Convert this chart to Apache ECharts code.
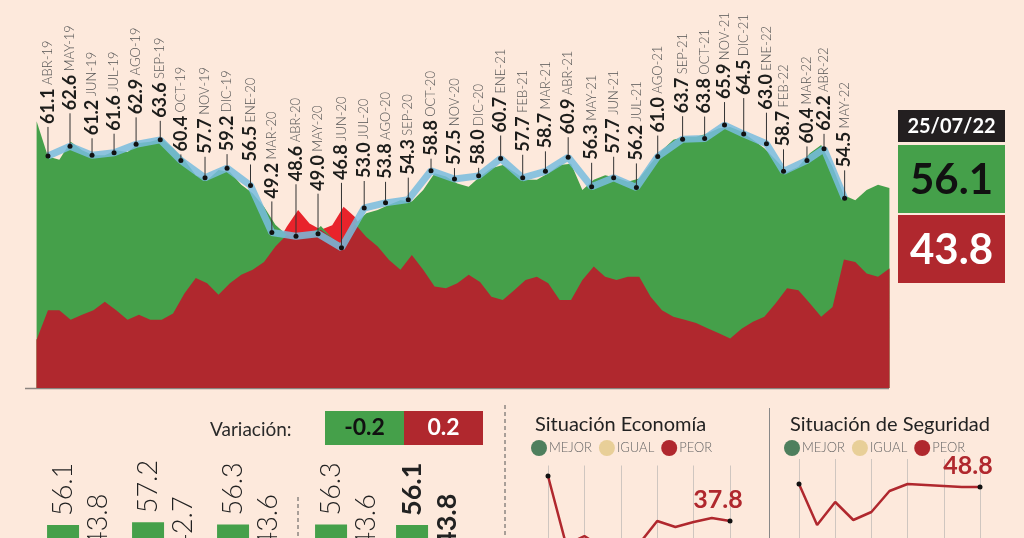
<!DOCTYPE html>
<html><head><meta charset="utf-8">
<script src="https://cdn.jsdelivr.net/npm/echarts@6/dist/echarts.min.js"></script>
<style>html,body{margin:0;padding:0;background:#fde9dc;}#c{width:1024px;height:538px;}</style>
</head><body><div id="c"></div>
<script>
// ---------- DATA ----------
// daily tracking, one sample every 16 days starting at day 0
const areaStepDays = 16;
const approval = [66.5,61.0,60.5,63.3,62.0,61.2,61.2,62.0,61.7,63.1,
  63.3,63.8,62.3,60.5,58.1,57.3,58.9,58.6,56.6,55.3,
  53.2,50.4,48.8,48.3,48.6,50.2,48.3,47.2,50.5,52.2,
  52.7,53.5,54.2,54.0,55.8,58.4,57.9,56.8,56.3,57.9,
  59.2,59.7,58.6,57.4,57.4,58.4,59.7,59.9,55.8,57.4,
  58.1,57.7,57.1,57.6,59.9,62.0,63.6,64.1,64.1,64.6,
  65.4,65.6,64.9,63.6,62.3,60.5,58.6,59.4,61.5,62.8,
  59.4,55.0,54.2,55.8,56.6,56.1];
const disapproval = [32.5,37.1,37.1,35.6,36.4,37.1,38.4,37.1,35.6,36.4,
  35.6,35.6,36.6,39.7,42.1,41.3,39.5,41.3,42.6,43.4,
  44.6,47.0,50.1,52.7,50.6,49.6,50.3,53.2,51.6,48.5,
  47.0,44.9,43.4,45.7,43.4,40.8,40.5,41.3,42.6,41.5,
  39.2,38.7,40.2,41.8,42.3,41.3,38.7,38.7,41.8,43.9,
  42.3,41.8,42.3,42.3,39.2,37.1,36.1,35.6,35.1,34.3,
  33.5,32.7,34.2,35.3,36.1,38.2,40.5,40.2,38.2,36.1,
  37.6,45.0,44.6,42.8,42.3,43.6];
// monthly averages (day = day of the tracking at which each average is plotted)
const monthLabels = ['ABR-19','MAY-19','JUN-19','JUL-19','AGO-19','SEP-19','OCT-19','NOV-19','DIC-19','ENE-20',
  'MAR-20','ABR-20','MAY-20','JUN-20','JUL-20','AGO-20','SEP-20','OCT-20','NOV-20','DIC-20',
  'ENE-21','FEB-21','MAR-21','ABR-21','MAY-21','JUN-21','JUL-21','AGO-21','SEP-21','OCT-21',
  'NOV-21','DIC-21','ENE-22','FEB-22','MAR-22','ABR-22','MAY-22'];
const monthValues = [61.1,62.6,61.2,61.6,62.9,63.6,60.4,57.7,59.2,56.5,
  49.2,48.6,49.0,46.8,53.0,53.8,54.3,58.8,57.5,58.0,
  60.7,57.7,58.7,60.9,56.3,57.7,56.2,61.0,63.7,63.8,
  65.9,64.5,63.0,58.7,60.4,62.2,54.5];
const monthDay = [16,47,78,109,140,174,203,237,268,301,
  331,365,396,429,461,491,523,555,588,622,
  653,684,716,748,781,812,844,874,909,940,
  968,995,1027,1051,1084,1108,1137];
const latestDate = '25/07/22';
const latestApproval = 56.1, latestDisapproval = 43.8;
// bottom-left comparison bars
const barApproveA = [56.1, 57.2, 56.3], barDisapproveA = [43.8, 42.7, 43.6];
const barApproveB = [56.3, 56.1], barDisapproveB = [43.6, 43.8];
// small panels (PEOR)
const econPeor = [55.8, 28.2, 31.8, 27.0, 26.0, 28.6, 37.8, 35.4, 37.4, 39.0, 37.8];
const segPeor  = [50.0, 33.6, 42.8, 35.6, 38.8, 47.2, 50.0, 49.6, 49.2, 48.8, 48.8];

// ---------- LAYOUT ----------
const labelGap = [32,36,20,22,30,22,9,24,17,24, 34,55,43,68,30,24,25,15,14,11,
  26,26,23,23,27,24,27,24,26,25, 26,39,34,25,17,18,31];
const GREEN = '#45a04a', DRED = '#b0282e', BRED = '#e8232b';
const MEJ = '#4e7f5d', IGU = '#e8cf98';

const days = approval.map((_, i) => i * areaStepDays);
const apData = approval.map((v, i) => [days[i], v]);
const disData = disapproval.map((v, i) => [days[i], v]);
const minData = approval.map((v, i) => [days[i], Math.min(v, disapproval[i])]);
const monthData = monthValues.map((v, i) => [monthDay[i], v]);

const chart = echarts.init(document.getElementById('c'));
const econCats = econPeor.map((_, i) => String(i + 1));
const segCats = segPeor.map((_, i) => String(i + 1));
const lastLabel = (arr) => arr.map((v, i) => i === arr.length - 1 ? {
  value: v, label: {show: true, position: 'top', offset: [-12, -1], formatter: v.toFixed(1),
    fontFamily: 'Lato', fontWeight: 'bold', fontSize: 25, color: DRED}} : v);
const dotSize = (arr) => (val, p) => (p.dataIndex === 0 || p.dataIndex === arr.length - 1) ? 5 : 0;
const barLabel = (bold) => ({show: true, position: 'top', rotate: 90, align: 'left', verticalAlign: 'middle',
  distance: 9, fontFamily: 'Lato', fontSize: 27, fontWeight: bold ? 'bold' : 300, color: '#222',
  formatter: (p) => p.value.toFixed(1)});
const barData = (arr, boldLast) => arr.map((v, i) => boldLast && i === arr.length - 1 ? {value: v, label: barLabel(true)} : v);

const variation = (barApproveB[1] - barApproveB[0]).toFixed(1);
const variationD = (barDisapproveB[1] - barDisapproveB[0]).toFixed(1);
const legendData = [{name: 'MEJOR', itemStyle: {color: MEJ}}, {name: 'IGUAL', itemStyle: {color: IGU}}, {name: 'PEOR', itemStyle: {color: DRED}}];
const legendText = {fontFamily: 'Lato', fontWeight: 300, fontSize: 13, color: '#666', padding: [0, 0, 0, -3]};
const G = (o) => Object.assign({outerBoundsMode: 'none', containLabel: false}, o);

const option = {
  backgroundColor: '#fde9dc',
  animation: false,
  title: [
    {text: 'Situación Economía', left: 530, top: 410, textStyle: {fontFamily: 'Lato', fontWeight: 'normal', fontSize: 20, color: '#222'}},
    {text: 'Situación de Seguridad', left: 785, top: 410, textStyle: {fontFamily: 'Lato', fontWeight: 'normal', fontSize: 20, color: '#222'}}
  ],
  legend: [
    {left: 531, top: 440, icon: 'circle', itemWidth: 16, itemHeight: 16, itemGap: 7, padding: 0, data: legendData, textStyle: legendText},
    {left: 784, top: 440, icon: 'circle', itemWidth: 16, itemHeight: 16, itemGap: 7, padding: 0, data: legendData, textStyle: legendText}
  ],
  grid: [
    G({left: 36.6, top: 118, width: 852.8, height: 270}),
    G({left: 38, top: 515.2, width: 255, height: 151}),
    G({left: 308, top: 515.2, width: 162, height: 151}),
    G({left: 548, top: 465.5, width: 182, height: 150}),
    G({left: 799, top: 459, width: 181, height: 150})
  ],
  xAxis: [
    {gridIndex: 0, type: 'value', min: 0, max: (approval.length - 1) * areaStepDays, show: false},
    {gridIndex: 1, type: 'category', data: ['a1', 'a2', 'a3'], show: false},
    {gridIndex: 2, type: 'category', data: ['b1', 'b2'], show: false},
    {gridIndex: 3, type: 'category', data: econCats, boundaryGap: false, axisLine: {show: false}, axisTick: {show: false}, axisLabel: {show: false},
      splitLine: {show: true, interval: (i) => i % 2 === 0, lineStyle: {color: '#cfc6c0', width: 1}}},
    {gridIndex: 4, type: 'category', data: segCats, boundaryGap: false, axisLine: {show: false}, axisTick: {show: false}, axisLabel: {show: false},
      splitLine: {show: true, interval: (i) => i % 2 === 0, lineStyle: {color: '#cfc6c0', width: 1}}}
  ],
  yAxis: [
    {gridIndex: 0, type: 'value', min: 25, max: 67, show: false},
    {gridIndex: 1, type: 'value', min: 0, max: 60, show: false},
    {gridIndex: 2, type: 'value', min: 0, max: 60, show: false},
    {gridIndex: 3, type: 'value', min: 0, max: 60, show: false},
    {gridIndex: 4, type: 'value', min: 0, max: 60, show: false}
  ],
  series: [
    {type: 'line', name: 'Desaprobación', data: disData, showSymbol: false, lineStyle: {width: 0}, areaStyle: {color: BRED, opacity: 1}, z: 1, silent: true},
    {type: 'line', name: 'Aprobación', data: apData, showSymbol: false, lineStyle: {width: 0}, areaStyle: {color: GREEN, opacity: 1}, z: 2, silent: true},
    {type: 'line', name: 'Desaprobación (bajo)', data: minData, showSymbol: false, lineStyle: {width: 0}, areaStyle: {color: DRED, opacity: 1}, z: 3, silent: true},
    {type: 'line', name: 'Promedio mensual', data: monthData, symbol: 'circle', symbolSize: 5,
      lineStyle: {width: 7, color: 'rgba(120,188,222,0.85)'}, itemStyle: {color: '#111'}, z: 4},
    {type: 'custom', name: 'etiquetas', data: monthData, z: 5,
      renderItem: (params, api) => {
        const i = params.dataIndex;
        const p = api.coord([api.value(0), api.value(1)]);
        const g = labelGap[i];
        return {type: 'group', children: [
          {type: 'line', shape: {x1: p[0], y1: p[1] - 2, x2: p[0], y2: p[1] - g + 3}, style: {stroke: '#333', lineWidth: 1}},
          {type: 'text', x: p[0], y: p[1] - g, rotation: Math.PI / 2,
            style: {text: '{v|' + monthValues[i].toFixed(1) + '} {m|' + monthLabels[i] + '}',
              align: 'left', verticalAlign: 'middle',
              rich: {v: {fontFamily: 'Lato', fontWeight: 'bold', fontSize: 18, fill: '#1d1d1b', color: '#1d1d1b'},
                     m: {fontFamily: 'Lato', fontWeight: 300, fontSize: 13, fill: '#555', color: '#555'}}}}
        ]};
      }},
    // bottom-left bars
    {type: 'bar', xAxisIndex: 1, yAxisIndex: 1, data: barApproveA, barWidth: 32, barGap: '9%', itemStyle: {color: GREEN}, label: barLabel(false)},
    {type: 'bar', xAxisIndex: 1, yAxisIndex: 1, data: barDisapproveA, barWidth: 32, barGap: '9%', itemStyle: {color: DRED}, label: barLabel(false)},
    {type: 'bar', xAxisIndex: 2, yAxisIndex: 2, data: barData(barApproveB, true), barWidth: 32, barGap: '9%', itemStyle: {color: GREEN}, label: barLabel(false)},
    {type: 'bar', xAxisIndex: 2, yAxisIndex: 2, data: barData(barDisapproveB, true), barWidth: 32, barGap: '9%', itemStyle: {color: DRED}, label: barLabel(false)},
    // small panels
    {type: 'line', name: 'MEJOR', xAxisIndex: 3, yAxisIndex: 3, data: [], itemStyle: {color: MEJ}},
    {type: 'line', name: 'IGUAL', xAxisIndex: 3, yAxisIndex: 3, data: [], itemStyle: {color: IGU}},
    {type: 'line', name: 'PEOR', xAxisIndex: 3, yAxisIndex: 3, data: lastLabel(econPeor), symbol: 'circle', symbolSize: dotSize(econPeor),
      lineStyle: {width: 2.5, color: DRED}, itemStyle: {color: '#111'}, z: 4},
    {type: 'line', name: 'MEJOR', xAxisIndex: 4, yAxisIndex: 4, data: [], itemStyle: {color: MEJ}},
    {type: 'line', name: 'IGUAL', xAxisIndex: 4, yAxisIndex: 4, data: [], itemStyle: {color: IGU}},
    {type: 'line', name: 'PEOR', xAxisIndex: 4, yAxisIndex: 4, data: lastLabel(segPeor), symbol: 'circle', symbolSize: dotSize(segPeor),
      lineStyle: {width: 2.5, color: DRED}, itemStyle: {color: '#111'}, z: 4}
  ],
  graphic: [
    {type: 'line', shape: {x1: 25, y1: 388.5, x2: 889, y2: 388.5}, style: {stroke: '#8a8480', lineWidth: 1.5}},
    {type: 'rect', shape: {x: 898, y: 110, width: 107, height: 32}, style: {fill: '#231f20'}},
    {type: 'text', x: 951.5, y: 126.5, style: {text: latestDate, fill: '#fff', font: 'bold 20px Lato', align: 'center', verticalAlign: 'middle', textAlign: 'center', textVerticalAlign: 'middle'}},
    {type: 'rect', shape: {x: 898, y: 145, width: 107, height: 68}, style: {fill: GREEN}},
    {type: 'text', x: 951.5, y: 180, style: {text: latestApproval.toFixed(1), fill: '#111', font: 'bold 42px Lato', align: 'center', verticalAlign: 'middle', textAlign: 'center', textVerticalAlign: 'middle'}},
    {type: 'rect', shape: {x: 898, y: 215, width: 107, height: 68}, style: {fill: DRED}},
    {type: 'text', x: 951.5, y: 250, style: {text: latestDisapproval.toFixed(1), fill: '#fff', font: 'bold 42px Lato', align: 'center', verticalAlign: 'middle', textAlign: 'center', textVerticalAlign: 'middle'}},
    {type: 'text', x: 210, y: 430, style: {text: 'Variación:', fill: '#2a2a2a', font: '19px Lato', align: 'left', verticalAlign: 'middle', textAlign: 'left', textVerticalAlign: 'middle'}},
    {type: 'rect', shape: {x: 325, y: 411, width: 79, height: 34}, style: {fill: GREEN}},
    {type: 'text', x: 364.5, y: 428, style: {text: variation, fill: '#111', font: 'bold 23px Lato', align: 'center', verticalAlign: 'middle', textAlign: 'center', textVerticalAlign: 'middle'}},
    {type: 'rect', shape: {x: 404, y: 411, width: 79, height: 34}, style: {fill: DRED}},
    {type: 'text', x: 443.5, y: 428, style: {text: variationD, fill: '#fff', font: 'bold 23px Lato', align: 'center', verticalAlign: 'middle', textAlign: 'center', textVerticalAlign: 'middle'}},
    {type: 'line', shape: {x1: 298, y1: 497, x2: 298, y2: 538}, style: {stroke: '#555', lineWidth: 1, lineDash: [4, 3]}},
    {type: 'line', shape: {x1: 505, y1: 405, x2: 505, y2: 538}, style: {stroke: '#555', lineWidth: 1, lineDash: [4, 3]}},
    {type: 'line', shape: {x1: 769.5, y1: 408, x2: 769.5, y2: 538}, style: {stroke: '#888', lineWidth: 1}}
  ]
};
chart.setOption(option);
</script>
</body></html>
